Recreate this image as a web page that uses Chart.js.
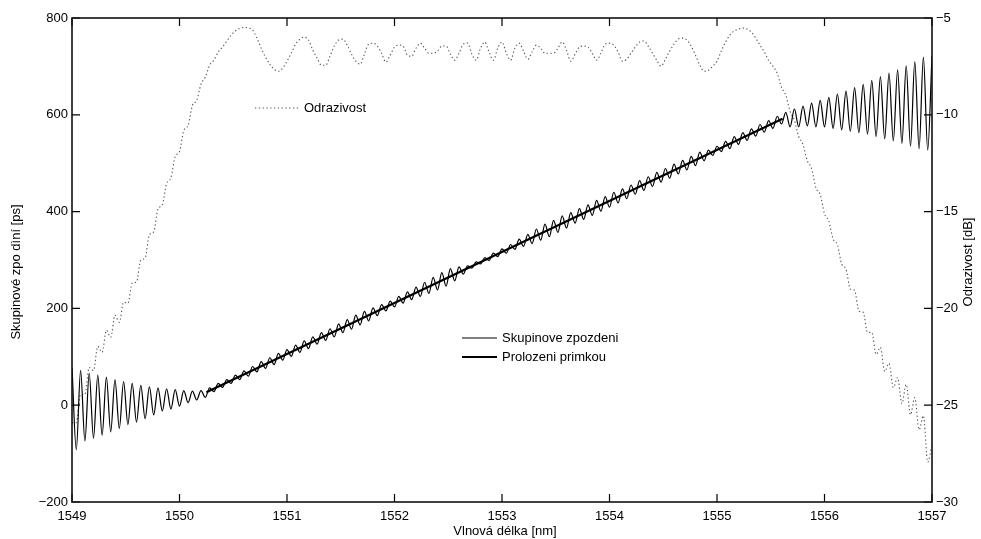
<!DOCTYPE html>
<html>
<head>
<meta charset="utf-8">
<script src="https://cdn.jsdelivr.net/npm/chart.js@4.4.1/dist/chart.umd.min.js"></script>
<style>
  html, body { margin: 0; padding: 0; background: #fff; overflow: hidden; }
  #wrap { width: 981px; height: 539px; position: relative; }
</style>
</head>
<body>
<div id="wrap"><canvas id="chart"></canvas></div>
<script>
// vlnova delka vzorku (nm) - spolecna pro obe krivky
const wavelengthNm = [
  1549.00,1549.04,1549.08,1549.12,1549.16,1549.20,1549.24,1549.28,1549.32,1549.36,
  1549.40,1549.44,1549.48,1549.52,1549.56,1549.60,1549.64,1549.68,1549.72,1549.76,
  1549.80,1549.84,1549.88,1549.92,1549.96,1550.00,1550.04,1550.08,1550.12,1550.16,
  1550.20,1550.24,1550.28,1550.32,1550.36,1550.40,1550.44,1550.48,1550.52,1550.56,
  1550.60,1550.64,1550.68,1550.72,1550.76,1550.80,1550.84,1550.88,1550.92,1550.96,
  1551.00,1551.04,1551.08,1551.12,1551.16,1551.20,1551.24,1551.28,1551.32,1551.36,
  1551.40,1551.44,1551.48,1551.52,1551.56,1551.60,1551.64,1551.68,1551.72,1551.76,
  1551.80,1551.84,1551.88,1551.92,1551.96,1552.00,1552.04,1552.08,1552.12,1552.16,
  1552.20,1552.24,1552.28,1552.32,1552.36,1552.40,1552.44,1552.48,1552.52,1552.56,
  1552.60,1552.64,1552.68,1552.72,1552.76,1552.80,1552.84,1552.88,1552.92,1552.96,
  1553.00,1553.04,1553.08,1553.12,1553.16,1553.20,1553.24,1553.28,1553.32,1553.36,
  1553.40,1553.44,1553.48,1553.52,1553.56,1553.60,1553.64,1553.68,1553.72,1553.76,
  1553.80,1553.84,1553.88,1553.92,1553.96,1554.00,1554.04,1554.08,1554.12,1554.16,
  1554.20,1554.24,1554.28,1554.32,1554.36,1554.40,1554.44,1554.48,1554.52,1554.56,
  1554.60,1554.64,1554.68,1554.72,1554.76,1554.80,1554.84,1554.88,1554.92,1554.96,
  1555.00,1555.04,1555.08,1555.12,1555.16,1555.20,1555.24,1555.28,1555.32,1555.36,
  1555.40,1555.44,1555.48,1555.52,1555.56,1555.60,1555.64,1555.68,1555.72,1555.76,
  1555.80,1555.84,1555.88,1555.92,1555.96,1556.00,1556.04,1556.08,1556.12,1556.16,
  1556.20,1556.24,1556.28,1556.32,1556.36,1556.40,1556.44,1556.48,1556.52,1556.56,
  1556.60,1556.64,1556.68,1556.72,1556.76,1556.80,1556.84,1556.88,1556.92,1556.96,
  1557.00
];

// skupinove zpozdeni (ps)
const groupDelayPs = [
  78,-92,72,-74,66,-68,62,-62,58,-55,
  53,-48,49,-40,45,-35,41,-28,38,-20,
  36,-12,34,-8,32,-2,30,5,29,11,
  30,16,36,28,45,37,53,45,62,53,
  71,60,80,69,90,76,98,84,107,93,
  115,101,124,109,133,117,141,126,150,134,
  158,141,168,150,177,157,186,166,194,174,
  201,185,208,195,215,203,225,211,234,218,
  244,225,254,231,264,238,274,246,282,257,
  286,271,288,283,296,292,305,299,314,307,
  323,314,332,322,343,328,353,334,364,341,
  374,348,382,357,391,366,398,376,406,384,
  414,392,423,401,431,409,440,418,447,427,
  455,436,464,444,472,452,481,461,489,469,
  498,478,506,486,514,495,523,505,527,516,
  535,524,545,530,555,539,563,547,571,556,
  580,564,588,572,597,581,605,575,612,575,
  618,577,624,575,630,575,636,572,643,569,
  649,566,656,563,663,560,671,555,679,550,
  686,546,693,541,701,535,710,530,719,527,
  722
];

// odrazivost (dB)
const reflectivityDb = [
  -25.90,-25.90,-24.45,-24.45,-23.05,-23.21,-21.96,-22.27,-21.13,-21.49,
  -20.35,-20.72,-19.68,-19.73,-18.69,-18.64,-17.50,-17.40,-16.20,-16.05,
  -14.86,-14.65,-13.56,-13.25,-12.16,-11.90,-10.81,-10.55,-9.51,-9.25,
  -8.42,-8.06,-7.44,-7.18,-6.76,-6.50,-6.19,-5.88,-5.67,-5.54,
  -5.49,-5.52,-5.62,-6.04,-6.56,-7.02,-7.39,-7.65,-7.75,-7.59,
  -7.23,-6.82,-6.35,-6.09,-5.99,-6.14,-6.66,-7.07,-7.44,-7.44,
  -6.97,-6.45,-6.14,-6.09,-6.40,-6.87,-7.23,-7.39,-6.87,-6.35,
  -6.30,-6.45,-6.82,-7.28,-6.92,-6.50,-6.40,-6.45,-6.92,-6.97,
  -6.56,-6.30,-6.56,-6.82,-6.82,-6.71,-6.45,-6.45,-6.87,-7.18,
  -6.82,-6.35,-6.30,-6.87,-7.18,-6.56,-6.24,-6.76,-7.18,-6.56,
  -6.24,-6.82,-7.18,-6.56,-6.30,-6.71,-7.13,-6.76,-6.40,-6.56,
  -6.82,-6.82,-6.82,-6.56,-6.24,-6.66,-7.23,-6.87,-6.50,-6.45,
  -6.50,-6.82,-7.18,-6.82,-6.35,-6.30,-6.40,-6.76,-7.23,-7.13,
  -6.82,-6.50,-6.24,-6.19,-6.45,-6.82,-7.18,-7.49,-7.13,-6.71,
  -6.35,-6.09,-6.04,-6.14,-6.45,-6.92,-7.44,-7.75,-7.70,-7.49,
  -7.23,-6.71,-6.24,-5.88,-5.67,-5.57,-5.52,-5.57,-5.73,-6.04,
  -6.40,-6.76,-7.18,-7.49,-7.85,-8.58,-8.99,-9.82,-10.29,-11.12,
  -11.54,-12.37,-12.78,-13.77,-14.13,-15.11,-15.48,-16.41,-16.72,-17.71,
  -17.97,-19.00,-19.06,-20.15,-20.20,-21.24,-21.24,-22.38,-22.01,-23.26,
  -22.84,-24.09,-23.57,-24.92,-23.93,-25.49,-24.61,-26.27,-25.54,-27.93,
  -27.05
];

// prolozeni primkou
const fitNm = [1550.25, 1555.61];
const fitPs = [27, 592];

// popisky os
const xTickValues = [1549, 1550, 1551, 1552, 1553, 1554, 1555, 1556, 1557];
const delayTickValues = [-200, 0, 200, 400, 600, 800];
const reflTickValues = [-30, -25, -20, -15, -10, -5];

const legendLabels = ['Odrazivost', 'Skupinove zpozdeni', 'Prolozeni primkou'];

const FONT = '13px "Liberation Sans", Arial, sans-serif';
const minus = v => (v < 0 ? '\u2212' + Math.abs(v) : String(v));
const setTicks = arr => scale => { scale.ticks = arr.map(v => ({ value: v })); };

Chart.defaults.font.family = '"Liberation Sans", Arial, sans-serif';
Chart.defaults.font.size = 13;
Chart.defaults.color = '#000';

const DOTS = [1.3, 2.5];

// ramecek, ticky dovnitr, popisky a legenda ve stylu matlabu
const matlabAxes = {
    id: 'matlabAxes',
    beforeDraw(chart) {
        const ctx = chart.ctx;
        ctx.save();
        ctx.fillStyle = '#fff';
        ctx.fillRect(0, 0, chart.width, chart.height);
        ctx.restore();
    },
    afterDatasetsDraw(chart) {
        const { ctx, chartArea: a, scales } = chart;
        const len = 8;
        ctx.save();
        ctx.strokeStyle = '#000';
        ctx.lineWidth = 1.2;
        ctx.beginPath();
        scales.x.ticks.forEach(t => {
            const px = scales.x.getPixelForValue(t.value);
            ctx.moveTo(px, a.bottom); ctx.lineTo(px, a.bottom - len);
            ctx.moveTo(px, a.top); ctx.lineTo(px, a.top + len);
        });
        scales.y.ticks.forEach(t => {
            const py = scales.y.getPixelForValue(t.value);
            ctx.moveTo(a.left, py); ctx.lineTo(a.left + len, py);
        });
        scales.y2.ticks.forEach(t => {
            const py = scales.y2.getPixelForValue(t.value);
            ctx.moveTo(a.right, py); ctx.lineTo(a.right - len, py);
        });
        ctx.stroke();

        ctx.lineWidth = 1.6;
        ctx.strokeStyle = '#111';
        ctx.strokeRect(a.left, a.top, a.right - a.left, a.bottom - a.top);

        // nazvy os
        ctx.fillStyle = '#000';
        ctx.font = FONT;
        ctx.textAlign = 'center';
        ctx.textBaseline = 'middle';
        ctx.fillText('Vlnová délka [nm]', (a.left + a.right) / 2 + 3, 531);

        ctx.save();
        ctx.translate(16, 272);
        ctx.rotate(-Math.PI / 2);
        ctx.fillText('Skupinové zpo dìní [ps]', 0, 0);
        ctx.restore();

        ctx.save();
        ctx.translate(968, 262);
        ctx.rotate(-Math.PI / 2);
        ctx.fillText('Odrazivost [dB]', 0, 0);
        ctx.restore();

        // legenda
        const ds = chart.data.datasets;
        const items = [
            { d: ds[2], x0: 255, x1: 299, y: 108, label: legendLabels[0] },
            { d: ds[1], x0: 462, x1: 497, y: 338, label: legendLabels[1] },
            { d: ds[0], x0: 462, x1: 497, y: 357, label: legendLabels[2] }
        ];
        items.forEach(it => {
            ctx.save();
            ctx.strokeStyle = it.d.borderColor;
            ctx.lineWidth = it.d.borderWidth;
            ctx.setLineDash(it.d.borderDash || []);
            ctx.beginPath();
            ctx.moveTo(it.x0, it.y);
            ctx.lineTo(it.x1, it.y);
            ctx.stroke();
            ctx.restore();
            ctx.textAlign = 'left';
            ctx.fillText(it.label, it.x1 + 5, it.y);
        });
        ctx.restore();
    }
};

const chart = new Chart(document.getElementById('chart'), {
    type: 'line',
    data: {
        datasets: [
            {
                label: legendLabels[2],
                data: fitNm.map((x, i) => ({ x, y: fitPs[i] })),
                yAxisID: 'y',
                borderColor: '#000',
                borderWidth: 2.2,
                pointRadius: 0
            },
            {
                label: legendLabels[1],
                data: wavelengthNm.map((x, i) => ({ x, y: groupDelayPs[i] })),
                yAxisID: 'y',
                borderColor: '#000',
                borderWidth: 1.2,
                pointRadius: 0,
                cubicInterpolationMode: 'monotone'
            },
            {
                label: legendLabels[0],
                data: wavelengthNm.map((x, i) => ({ x, y: reflectivityDb[i] })),
                yAxisID: 'y2',
                borderColor: '#555',
                borderWidth: 1.1,
                borderDash: DOTS,
                pointRadius: 0,
                cubicInterpolationMode: 'monotone'
            }
        ]
    },
    options: {
        responsive: true,
        maintainAspectRatio: false,
        animation: false,
        events: [],
        layout: { padding: { top: 18, left: 0, right: 0, bottom: 0 } },
        scales: {
            x: {
                type: 'linear',
                min: 1549,
                max: 1557,
                afterBuildTicks: setTicks(xTickValues),
                afterFit: s => { s.height = 37; },
                grid: { display: false, drawTicks: false },
                border: { display: false },
                ticks: { padding: 7, maxRotation: 0, autoSkip: false, callback: v => String(v) }
            },
            y: {
                position: 'left',
                min: -200,
                max: 800,
                afterBuildTicks: setTicks(delayTickValues),
                afterFit: s => { s.width = 72; },
                grid: { display: false, drawTicks: false },
                border: { display: false },
                ticks: { padding: 4, callback: minus }
            },
            y2: {
                position: 'right',
                min: -30,
                max: -5,
                afterBuildTicks: setTicks(reflTickValues),
                afterFit: s => { s.width = 49; },
                grid: { display: false, drawTicks: false },
                border: { display: false },
                ticks: { padding: 4, callback: minus }
            }
        },
        plugins: {
            legend: { display: false },
            tooltip: { enabled: false }
        }
    },
    plugins: [matlabAxes]
});
</script>
</body>
</html>
